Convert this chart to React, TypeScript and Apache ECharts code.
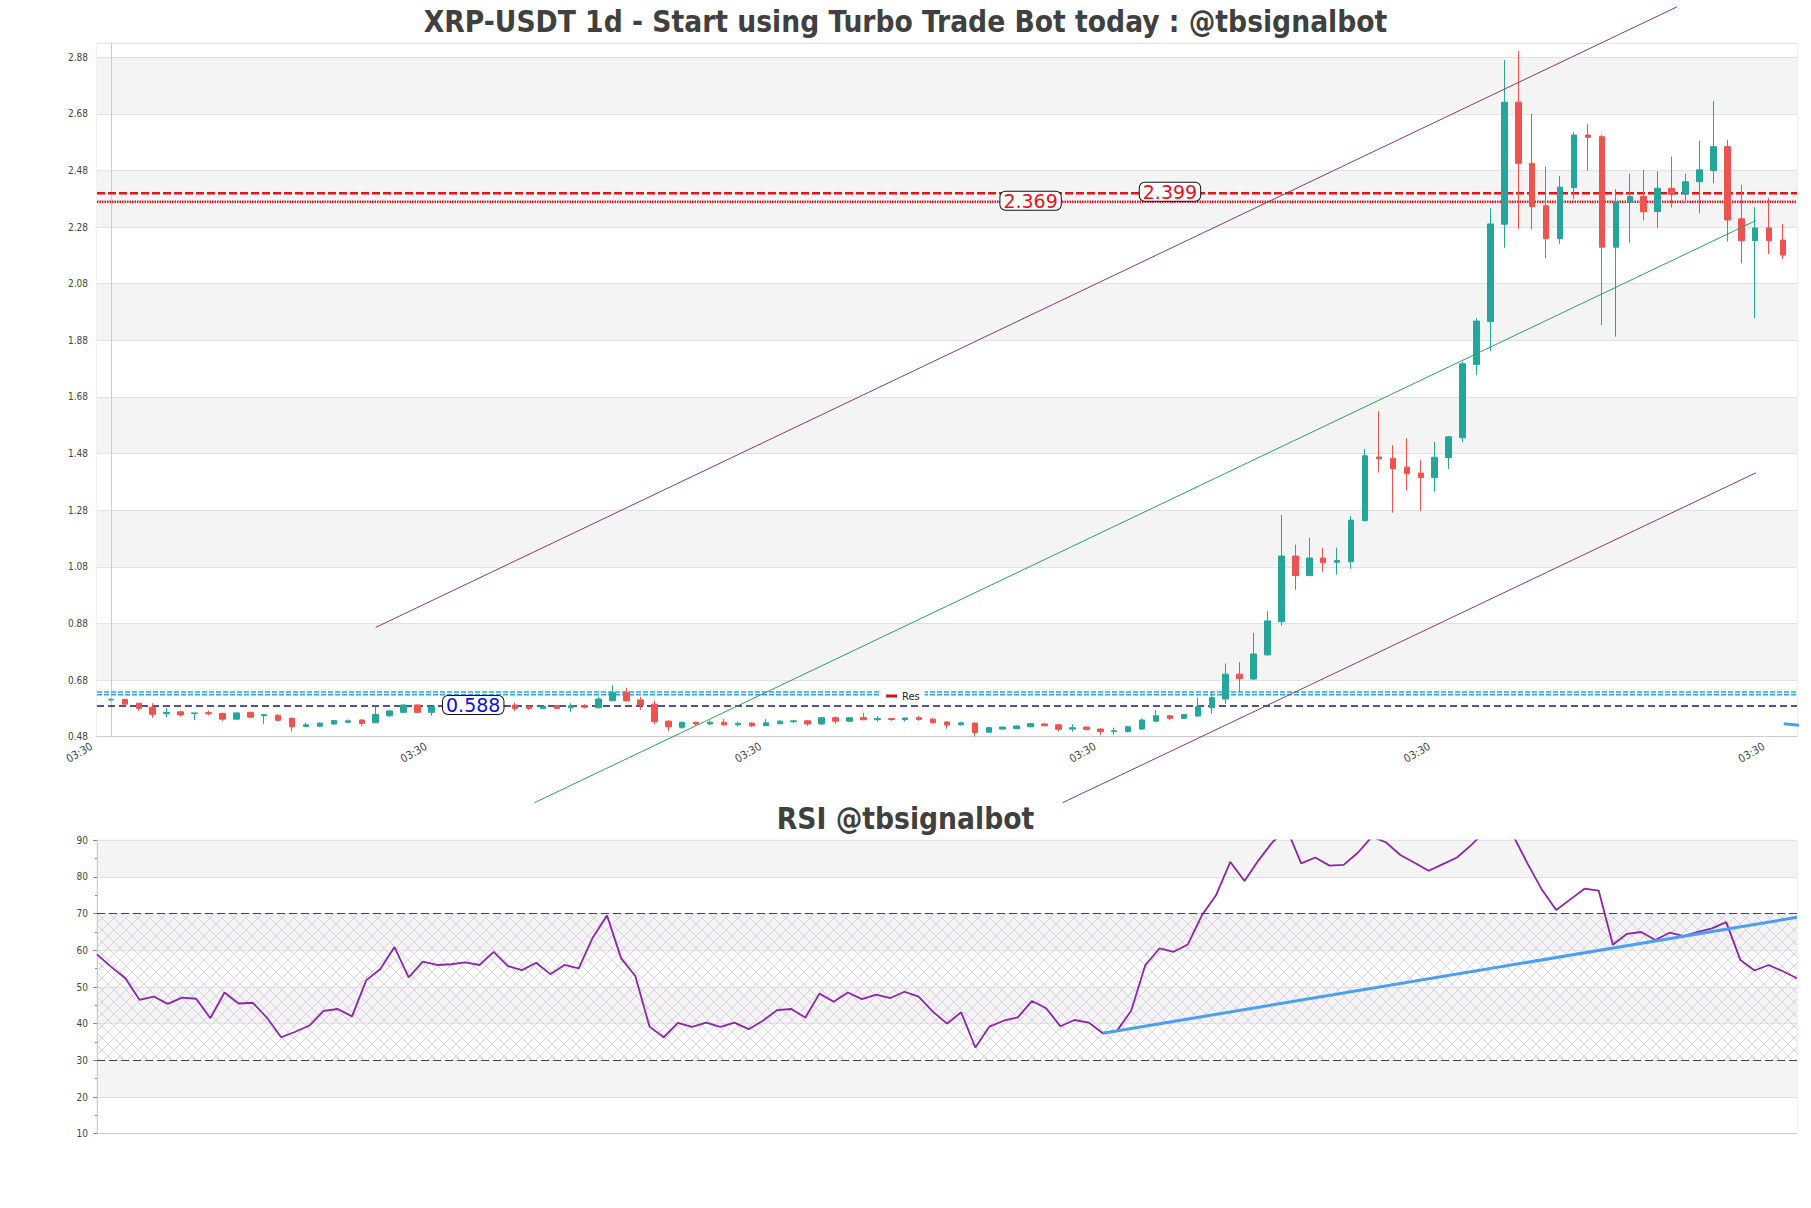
import React, { useEffect, useRef } from 'react';
import * as echarts from 'echarts';

// ---------- data ----------
const chartTitle = 'XRP-USDT 1d - Start using Turbo Trade Bot today : @tbsignalbot';
const rsiTitle = 'RSI @tbsignalbot';
const xTickLabel = '03:30';

const opens = [
  0.610, 0.612, 0.598, 0.584, 0.561, 0.568, 0.562, 0.565, 0.562, 0.542,
  0.566, 0.554, 0.556, 0.545, 0.516, 0.517, 0.525, 0.531, 0.539, 0.529,
  0.554, 0.566, 0.592, 0.566, 0.586, 0.590, 0.585, 0.592, 0.588, 0.592,
  0.586, 0.580, 0.590, 0.582, 0.590, 0.582, 0.607, 0.637, 0.610, 0.595,
  0.535, 0.513, 0.531, 0.525, 0.531, 0.522, 0.528, 0.519, 0.526, 0.533,
  0.536, 0.525, 0.547, 0.535, 0.548, 0.540, 0.544, 0.540, 0.547, 0.542,
  0.532, 0.522, 0.528, 0.496, 0.507, 0.509, 0.515, 0.525, 0.522, 0.507,
  0.514, 0.507, 0.498, 0.498, 0.507, 0.535, 0.554, 0.545, 0.553, 0.582,
  0.613, 0.701, 0.684, 0.769, 0.886, 1.118, 1.049, 1.111, 1.096, 1.098,
  1.243, 1.468, 1.463, 1.432, 1.411, 1.395, 1.466, 1.536, 1.795, 1.946,
  2.290, 2.721, 2.505, 2.355, 2.239, 2.419, 2.605, 2.599, 2.209, 2.368,
  2.388, 2.335, 2.417, 2.397, 2.440, 2.479, 2.564, 2.309, 2.232, 2.277,
  2.234,
];
const closes = [
  0.611, 0.595, 0.580, 0.559, 0.566, 0.557, 0.564, 0.561, 0.542, 0.564,
  0.549, 0.558, 0.538, 0.515, 0.522, 0.528, 0.537, 0.536, 0.527, 0.559,
  0.571, 0.592, 0.566, 0.586, 0.590, 0.585, 0.592, 0.588, 0.597, 0.580,
  0.580, 0.587, 0.580, 0.589, 0.584, 0.613, 0.635, 0.607, 0.592, 0.533,
  0.515, 0.531, 0.525, 0.531, 0.522, 0.527, 0.518, 0.529, 0.535, 0.536,
  0.525, 0.547, 0.535, 0.547, 0.540, 0.544, 0.541, 0.546, 0.541, 0.529,
  0.521, 0.529, 0.495, 0.512, 0.514, 0.518, 0.526, 0.519, 0.506, 0.512,
  0.506, 0.498, 0.501, 0.515, 0.539, 0.554, 0.545, 0.558, 0.586, 0.618,
  0.701, 0.685, 0.772, 0.889, 1.118, 1.049, 1.111, 1.095, 1.102, 1.245,
  1.472, 1.462, 1.427, 1.409, 1.395, 1.467, 1.539, 1.797, 1.948, 2.291,
  2.721, 2.505, 2.352, 2.239, 2.421, 2.605, 2.597, 2.209, 2.369, 2.388,
  2.334, 2.417, 2.396, 2.440, 2.482, 2.564, 2.305, 2.232, 2.277, 2.232,
  2.181,
];
const lows = [
  0.607, 0.589, 0.571, 0.547, 0.549, 0.551, 0.539, 0.555, 0.535, 0.541,
  0.548, 0.525, 0.535, 0.498, 0.515, 0.514, 0.522, 0.529, 0.518, 0.528,
  0.549, 0.564, 0.564, 0.554, 0.580, 0.580, 0.582, 0.584, 0.585, 0.571,
  0.575, 0.578, 0.578, 0.568, 0.580, 0.580, 0.605, 0.604, 0.574, 0.524,
  0.500, 0.509, 0.519, 0.521, 0.519, 0.516, 0.515, 0.518, 0.524, 0.528,
  0.518, 0.522, 0.526, 0.533, 0.538, 0.533, 0.536, 0.533, 0.536, 0.527,
  0.508, 0.519, 0.480, 0.495, 0.505, 0.507, 0.513, 0.517, 0.498, 0.498,
  0.502, 0.486, 0.488, 0.495, 0.505, 0.533, 0.538, 0.542, 0.551, 0.562,
  0.596, 0.637, 0.680, 0.766, 0.872, 0.999, 1.049, 1.062, 1.052, 1.073,
  1.241, 1.413, 1.271, 1.350, 1.278, 1.345, 1.425, 1.520, 1.758, 1.843,
  2.207, 2.273, 2.272, 2.170, 2.221, 2.378, 2.479, 1.934, 1.893, 2.225,
  2.303, 2.277, 2.349, 2.364, 2.329, 2.435, 2.229, 2.152, 1.958, 2.185,
  2.167,
];
const highs = [
  0.616, 0.613, 0.599, 0.598, 0.582, 0.572, 0.564, 0.572, 0.565, 0.566,
  0.568, 0.560, 0.559, 0.548, 0.529, 0.531, 0.539, 0.541, 0.541, 0.586,
  0.573, 0.594, 0.594, 0.588, 0.595, 0.594, 0.596, 0.595, 0.600, 0.600,
  0.589, 0.588, 0.592, 0.598, 0.595, 0.621, 0.662, 0.653, 0.621, 0.606,
  0.538, 0.533, 0.533, 0.538, 0.542, 0.533, 0.531, 0.542, 0.538, 0.539,
  0.539, 0.549, 0.552, 0.549, 0.564, 0.552, 0.547, 0.547, 0.554, 0.547,
  0.534, 0.532, 0.531, 0.514, 0.516, 0.520, 0.528, 0.527, 0.525, 0.524,
  0.516, 0.510, 0.512, 0.518, 0.545, 0.574, 0.557, 0.560, 0.618, 0.639,
  0.739, 0.744, 0.847, 0.924, 1.263, 1.158, 1.182, 1.147, 1.148, 1.260,
  1.496, 1.630, 1.510, 1.534, 1.457, 1.521, 1.542, 1.805, 1.958, 2.346,
  2.870, 2.902, 2.680, 2.493, 2.461, 2.615, 2.644, 2.605, 2.414, 2.468,
  2.482, 2.477, 2.529, 2.468, 2.585, 2.725, 2.588, 2.429, 2.350, 2.382,
  2.291,
];

const rsiValues = [
  58.9, 55.5, 52.4, 46.5, 47.4, 45.4, 47.1, 46.8, 41.5, 48.5,
  45.5, 45.7, 41.6, 36.3, 37.8, 39.5, 43.5, 44.0, 42.0, 51.8,
  54.9, 60.9, 52.6, 56.9, 56.0, 56.2, 56.7, 56.0, 59.6, 55.7,
  54.6, 56.6, 53.5, 56.0, 55.1, 63.5, 69.5, 57.8, 53.0, 39.2,
  36.3, 40.2, 39.1, 40.3, 39.1, 40.3, 38.5, 40.8, 43.7, 44.0,
  41.7, 48.2, 46.0, 48.5, 46.7, 47.9, 47.0, 48.7, 47.4, 43.3,
  40.0, 43.1, 33.5, 39.2, 40.8, 41.7, 46.2, 44.2, 39.3, 41.0,
  40.3, 37.4, 38.1, 43.5, 56.0, 60.5, 59.6, 61.6, 69.6, 75.1,
  84.1, 78.9, 84.6, 89.6, 93.0, 83.7, 85.3, 83.1, 83.3, 86.6,
  91.0, 89.4, 86.0, 83.9, 81.7, 83.5, 85.3, 88.7, 92.5, 92.0,
  91.0, 83.5, 76.5, 71.0, 73.9, 76.8, 76.3, 61.5, 64.5, 65.0,
  62.8, 64.8, 63.9, 65.0, 66.0, 67.7, 57.4, 54.5, 56.0, 54.3,
  52.4,
];

// horizontal levels
const resistanceDashed = 2.399;
const resistanceDotted = 2.369;
const supportLevel = 0.588;
const zoneUpper = 0.638;
const zoneLower = 0.628;

// channel lines (candle index, price) — visible end points
const channelUpper = [[19, 0.866], [112.4, 3.058]];
const channelMid = [[30.4, 0.247], [118.05, 2.303]];
const channelLower = [[68.3, 0.247], [118.05, 1.412]];
const priceTrendStub = [[120.05, 0.526], [121.75, 0.518]];

// rsi trend line (index, rsi)
const rsiTrend = [[71, 37.4], [120, 69.0]];
const rsiUpper = 70;
const rsiLower = 30;

// level annotations: candle index, price, text
const levelLabels = [
  { idx: 26, price: 0.592, text: '0.588', color: '#1010d8' },
  { idx: 66, price: 2.373, text: '2.369', color: '#e8101a' },
  { idx: 76, price: 2.405, text: '2.399', color: '#e8101a' },
];

const FONT = '"DejaVu Sans Condensed", "DejaVu Sans", sans-serif';

export default function App() {
  const ref = useRef<HTMLDivElement>(null);

  useEffect(() => {
    document.body.style.margin = '0';
    if (!ref.current) return;
    const chart = echarts.init(ref.current, undefined, { renderer: 'svg' });

    const candleData = opens.map((o, i) => [i, o, closes[i], lows[i], highs[i]]);
    const rsiCats = rsiValues.map((_, i) => String(i));
    const fullLine = (v: number) => [[-1, v], [121, v]];

    const hatchSvg =
      '<svg xmlns="http://www.w3.org/2000/svg" width="12" height="12">' +
      '<path d="M0 0L12 12M12 0L0 12" stroke="#d2c8de" stroke-width="0.8" fill="none"/></svg>';
    const hatchUrl = 'data:image/svg+xml;charset=utf-8,' + encodeURIComponent(hatchSvg);

    const hLine = (name: string, v: number, color: string, width: number, type: any, z = 2) => ({
      name,
      type: 'line',
      xAxisIndex: 0,
      yAxisIndex: 0,
      data: fullLine(v),
      symbol: 'none',
      silent: true,
      color,
      z,
      lineStyle: { color, width, type },
    });

    const freeLine = (data: number[][], color: string, width: number, x = 0) => ({
      type: 'line',
      xAxisIndex: x,
      yAxisIndex: x,
      data,
      symbol: 'none',
      silent: true,
      clip: false,
      z: 4,
      lineStyle: { color, width },
    });

    const titleStyle = { fontSize: 29.6, fontWeight: 'bold', color: '#404040', fontFamily: FONT };

    const option: any = {
      animation: false,
      backgroundColor: '#ffffff',
      title: [
        { text: chartTitle, left: 'center', top: 7, padding: 0, textStyle: titleStyle },
        { text: rsiTitle, left: 'center', top: 804, padding: 0, textStyle: titleStyle },
      ],
      legend: {
        data: [{ name: 'Res', icon: 'rect' }],
        left: 881,
        top: 689,
        padding: [0, 5],
        backgroundColor: '#ffffff',
        itemWidth: 11,
        itemHeight: 3,
        itemGap: 5,
        itemStyle: { color: '#d6141c' },
        textStyle: { fontSize: 11, color: '#222', fontFamily: FONT, lineHeight: 14 },
        selectedMode: false,
      },
      grid: [
        { left: 97, right: 14, top: 43.3, height: 693.4, show: true, borderColor: '#e2e2e2', borderWidth: 1 },
        { left: 97, right: 14, top: 840.3, height: 293.4, show: true, borderColor: '#e2e2e2', borderWidth: 1 },
      ],
      xAxis: [
        {
          type: 'value',
          gridIndex: 0,
          min: -1,
          max: 121,
          interval: 24,
          axisLine: { show: true, onZero: false, lineStyle: { color: '#cccccc' } },
          axisTick: { show: false },
          splitLine: { show: false },
          axisLabel: {
            formatter: () => xTickLabel,
            rotate: 30,
            fontSize: 11,
            color: '#444',
            margin: 6,
            padding: [0, 6, 0, 0],
            showMaxLabel: false,
            fontFamily: FONT,
          },
        },
        {
          type: 'category',
          gridIndex: 1,
          data: rsiCats,
          boundaryGap: false,
          axisLine: { show: true, lineStyle: { color: '#cccccc' } },
          axisTick: { show: false },
          axisLabel: { show: false },
          splitLine: { show: false },
        },
      ],
      yAxis: [
        {
          type: 'value',
          gridIndex: 0,
          min: 0.48,
          max: 2.929,
          interval: 0.2,
          axisLine: { show: true, lineStyle: { color: '#cccccc' } },
          axisTick: { show: false },
          axisLabel: {
            formatter: (v: number) => v.toFixed(2),
            fontSize: 10,
            color: '#444',
            margin: 9,
            showMaxLabel: false,
            fontFamily: FONT,
          },
          splitLine: { show: true, lineStyle: { color: '#e2e2e2' } },
          splitArea: { show: true, areaStyle: { color: ['#ffffff', '#f4f4f4'] } },
        },
        {
          type: 'value',
          gridIndex: 1,
          min: 10,
          max: 90,
          interval: 10,
          axisLine: { show: true, lineStyle: { color: '#cccccc' } },
          axisTick: { show: true, length: 4, lineStyle: { color: '#888' } },
          minorTick: { show: true, splitNumber: 2, length: 2, lineStyle: { color: '#888' } },
          axisLabel: { fontSize: 10, color: '#444', margin: 9, fontFamily: FONT },
          splitLine: { show: true, lineStyle: { color: '#e2e2e2' } },
          splitArea: { show: true, areaStyle: { color: ['#ffffff', '#f4f4f4'] } },
        },
      ],
      series: [
        hLine('ZoneA', zoneUpper, '#2aa6de', 1.5, [5, 2]),
        hLine('ZoneB', zoneLower, '#2aa6de', 1.5, [5, 2]),
        hLine('Support', supportLevel, '#16168e', 1.5, [7, 4]),
        hLine('Res', resistanceDashed, '#e0141c', 2.5, [8, 3]),
        hLine('ResDot', resistanceDotted, '#e0141c', 2.5, [1.5, 1]),
        {
          name: 'Price',
          type: 'candlestick',
          xAxisIndex: 0,
          yAxisIndex: 0,
          data: candleData,
          barWidth: 6,
          z: 3,
          itemStyle: {
            color: '#26a69a',
            color0: '#ef5350',
            borderColor: '#26a69a',
            borderColor0: '#ef5350',
            borderWidth: 1,
          },
        },
        freeLine(channelUpper, '#8c3a62', 1),
        freeLine(channelMid, '#2f9e5f', 1),
        freeLine(channelLower, '#8c3a62', 1),
        freeLine(priceTrendStub, '#4c9ff0', 3),
        {
          name: 'Levels',
          type: 'scatter',
          xAxisIndex: 0,
          yAxisIndex: 0,
          symbolSize: 1,
          z: 10,
          silent: true,
          itemStyle: { color: 'rgba(0,0,0,0)', opacity: 1 },
          data: levelLabels.map((l) => ({
            value: [l.idx, l.price],
            label: {
              show: true,
              position: 'inside',
              formatter: l.text,
              color: l.color,
              opacity: 1,
              fontSize: 19,
              fontFamily: '"DejaVu Sans", sans-serif',
              backgroundColor: '#ffffff',
              borderColor: '#111111',
              borderWidth: 1,
              borderRadius: 5,
              padding: [1, 3, 0, 3],
              lineHeight: 17,
            },
          })),
        },
        {
          name: 'RSI',
          type: 'line',
          xAxisIndex: 1,
          yAxisIndex: 1,
          data: rsiValues,
          symbol: 'none',
          z: 3,
          lineStyle: { color: '#8e24aa', width: 1.8 },
          markArea: {
            silent: true,
            itemStyle: {
              color: { image: hatchUrl, repeat: 'repeat', imageWidth: 12, imageHeight: 12 },
            },
            data: [[{ yAxis: rsiLower }, { yAxis: rsiUpper }]],
          },
          markLine: {
            silent: true,
            symbol: 'none',
            label: { show: false },
            lineStyle: { color: '#444', width: 1.2, type: [8, 4] },
            data: [{ yAxis: rsiUpper }, { yAxis: rsiLower }],
          },
        },
        {
          type: 'line',
          xAxisIndex: 1,
          yAxisIndex: 1,
          data: rsiTrend,
          symbol: 'none',
          silent: true,
          z: 4,
          lineStyle: { color: '#4c9ff0', width: 3 },
        },
      ],
    };

    chart.setOption(option);
    return () => chart.dispose();
  }, []);

  return (
    <div
      ref={ref}
      style={{ position: 'absolute', left: 0, top: 0, width: 1811, height: 1208 }}
    />
  );
}
